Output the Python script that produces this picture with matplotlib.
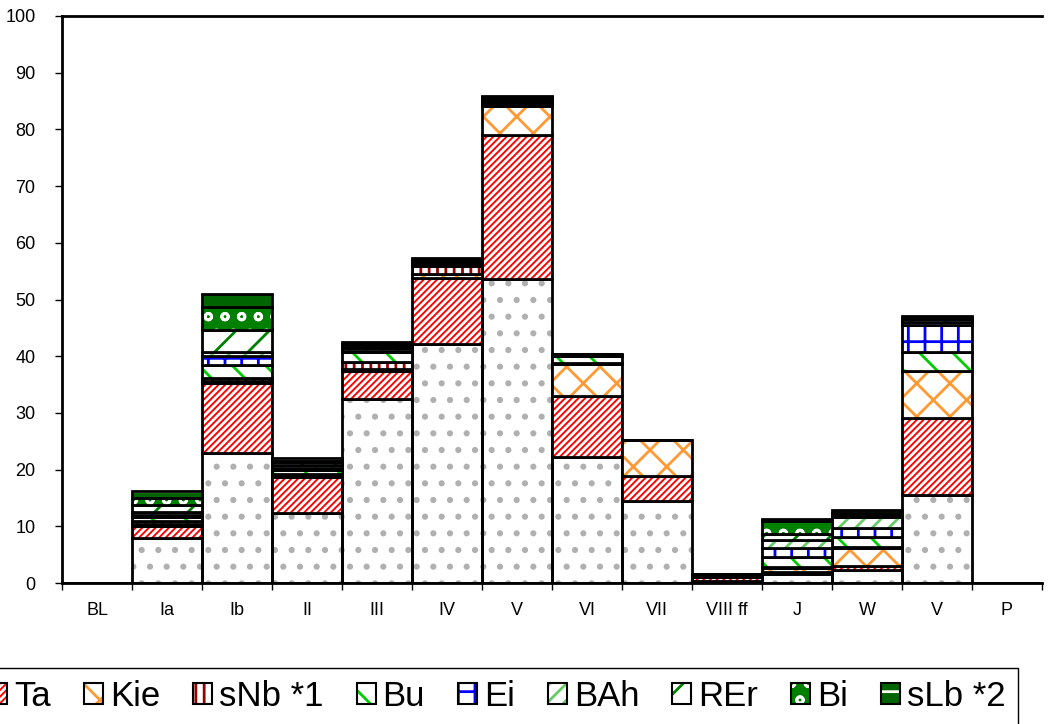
import numpy as np
import matplotlib.pyplot as plt
from matplotlib.patches import Patch
from matplotlib.legend_handler import HandlerTuple

plt.rcParams['font.family'] = ['Liberation Sans', 'DejaVu Sans']
plt.rcParams['hatch.linewidth'] = 2.0

# Kategorien
kat = ['BL', 'Ia', 'Ib', 'II', 'III', 'IV', 'V', 'VI', 'VII', 'VIII ff', 'J', 'W', 'V', 'P']

# Werte je Schicht (von unten nach oben)
mo  = [0, 8.0, 22.9, 12.3, 32.5, 42.2, 53.6, 22.2, 14.5, 0.4, 1.6, 2.3, 15.5, 0]
ta  = [0, 2.1, 12.4, 6.4, 4.9, 11.6, 25.4, 10.8, 4.4, 0.7, 0.4, 0.7, 13.6, 0]
kie = [0, 0.3, 0.4, 0.3, 0.3, 0.7, 5.1, 5.6, 6.3, 0.2, 0.6, 3.2, 8.3, 0]
snb = [0, 0.5, 0.5, 0.2, 1.2, 1.4, 0.2, 0.2, 0.0, 0.2, 0.3, 0.1, 0.0, 0]
bu  = [0, 0.8, 2.2, 0.8, 1.8, 0.3, 0.3, 1.2, 0.0, 0.0, 1.6, 1.9, 3.3, 0]
ei  = [0, 0.3, 1.6, 0.3, 0.3, 0.2, 0.2, 0.1, 0.0, 0.0, 1.7, 1.5, 4.8, 0]
bah = [0, 0.5, 0.8, 0.5, 0.4, 0.2, 0.3, 0.1, 0.0, 0.0, 1.3, 2.0, 0.6, 0]
rer = [0, 1.2, 3.9, 0.5, 0.4, 0.2, 0.4, 0.1, 0.0, 0.0, 1.2, 0.3, 0.4, 0]
bi  = [0, 1.3, 3.9, 0.3, 0.3, 0.2, 0.2, 0.05, 0.0, 0.0, 2.3, 0.3, 0.2, 0]
slb = [0, 1.3, 2.3, 0.4, 0.4, 0.3, 0.2, 0.05, 0.0, 0.0, 0.3, 0.6, 0.4, 0]

# Name, Werte, Flaeche, Schraffurfarbe, Schraffur
schichten = [
    ('Mo', mo, 'white', '#b0b0b0', '.'),
    ('Ta', ta, '#ff0000', 'white', '/////'),
    ('Kie', kie, 'white', '#ff9933', 'x'),
    ('sNb *1', snb, 'white', '#990000', '||'),
    ('Bu', bu, 'white', '#00cc00', '\\'),
    ('Ei', ei, 'white', '#0000ff', '+'),
    ('BAh', bah, 'white', '#66cc66', '//'),
    ('REr', rer, 'white', '#008000', '/'),
    ('Bi', bi, '#008000', 'white', 'o'),
    ('sLb *2', slb, '#006400', 'white', '-'),
]

fig = plt.figure(figsize=(10.52, 7.24), dpi=100)
ax = fig.add_axes([62/1052, 141/724, 980/1052, 567/724])

x = np.arange(len(kat))
unten = np.zeros(len(kat))
handles = []
for name, werte, fc, hc, hatch in schichten:
    werte = np.array(werte)
    ax.bar(x, werte, width=1.0, bottom=unten, color=fc, edgecolor=hc, hatch=hatch, linewidth=0)
    ax.bar(x, werte, width=1.0, bottom=unten, fill=False, edgecolor='black', linewidth=2.0)
    unten += werte
    h1 = Patch(facecolor=fc, edgecolor=hc, hatch=hatch, linewidth=0)
    h2 = Patch(fill=False, edgecolor='black', linewidth=1.5)
    handles.append(((h1, h2), name))

ax.set_xlim(-0.5, len(kat) - 0.5)
ax.set_ylim(0, 100)
ax.set_yticks(range(0, 101, 10))
ax.set_xticks(np.arange(len(kat) + 1) - 0.5)
ax.set_xticklabels([])
ax.set_xticks(x, minor=True)
ax.set_xticklabels(kat, minor=True)
ax.tick_params(axis='x', which='minor', length=0, pad=14, labelsize=13)
ax.tick_params(axis='x', which='major', length=5, width=1)
ax.tick_params(axis='y', length=5, width=1, labelsize=13, pad=14)

for s in ['left', 'bottom', 'top']:
    ax.spines[s].set_linewidth(2)
ax.spines['right'].set_visible(False)

# Legende (links abgeschnitten wie im Original)
leg = fig.legend([h for h, n in handles[1:]], [n for h, n in handles[1:]],
                 handler_map={tuple: HandlerTuple(ndivide=1)},
                 loc='upper right', bbox_to_anchor=(1018/1052, 1 - 668/724),
                 bbox_transform=fig.transFigure, borderaxespad=0, ncol=9, fontsize=25,
                 handlelength=0.55, handleheight=0.55, handletextpad=0.2,
                 columnspacing=0.95, fancybox=False, edgecolor='black',
                 framealpha=1, borderpad=0.35)
leg.get_frame().set_linewidth(1)

plt.savefig('out.png', dpi=100)
